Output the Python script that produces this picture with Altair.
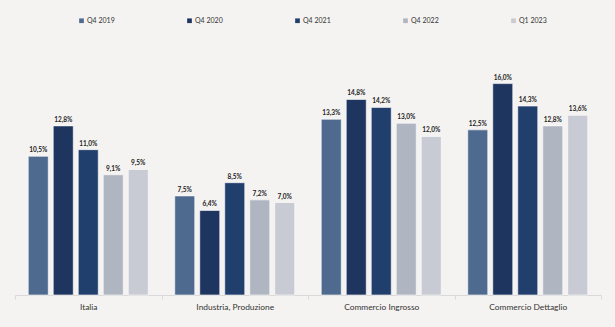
import altair as alt
import pandas as pd

categories = ["Italia", "Industria, Produzione", "Commercio Ingrosso", "Commercio Dettaglio"]
series = ["Q4 2019", "Q4 2020", "Q4 2021", "Q4 2022", "Q1 2023"]
values = {
    "Italia": [10.5, 12.8, 11.0, 9.1, 9.5],
    "Industria, Produzione": [7.5, 6.4, 8.5, 7.2, 7.0],
    "Commercio Ingrosso": [13.3, 14.8, 14.2, 13.0, 12.0],
    "Commercio Dettaglio": [12.5, 16.0, 14.3, 12.8, 13.6],
}
colors = ["#4e6a8f", "#1e3560", "#213f6d", "#b0b5c2", "#c8cbd3"]

rows = []
for c in categories:
    for s, v in zip(series, values[c]):
        rows.append({"cat": c, "ser": s, "val": v,
                     "lab": f"{v:.1f}".replace(".", ",") + "%"})
df = pd.DataFrame(rows)

x = alt.X("cat:N", sort=categories, title=None,
          scale=alt.Scale(paddingInner=0, paddingOuter=0),
          axis=alt.Axis(labelAngle=0, tickBand="extent", domainColor="#d9d9d9",
                        tickColor="#d9d9d9", tickSize=4, labelFontSize=8.4,
                        labelColor="#333333", labelPadding=3, labelFont="Lato"))
xo = alt.XOffset("ser:N", sort=series,
                 scale=alt.Scale(paddingInner=0.2, paddingOuter=0.53))
y = alt.Y("val:Q", scale=alt.Scale(domain=[0, 19.3], nice=False), axis=None)

bars = alt.Chart(df).mark_bar(stroke="white", strokeWidth=0.6).encode(
    x=x, xOffset=xo, y=y,
    color=alt.Color("ser:N", sort=series,
                    scale=alt.Scale(domain=series, range=colors),
                    legend=alt.Legend(title=None, orient="none", direction="horizontal",
                                      legendX=63, legendY=-23, symbolType="square",
                                      symbolSize=22, symbolStrokeWidth=0,
                                      labelFontSize=7, labelColor="#333333",
                                      labelFont="Lato", columnPadding=71,
                                      symbolOffset=0, labelOffset=2)),
)

text = alt.Chart(df).mark_text(baseline="bottom", dy=-3, fontSize=6.5,
                               fontWeight="bold", color="#222222", font="Lato").encode(
    x=alt.X("cat:N", sort=categories), xOffset=xo, y=y, text="lab:N")

chart = alt.layer(bars, text).properties(
    width=586, height=255,
    padding={"left": 15, "top": 40, "right": 14, "bottom": 32},
    autosize=alt.AutoSizeParams(type="none"),
    background="#f4f3f1",
).configure_view(stroke=None)

chart.save("out.html", embed_options={"renderer": "svg", "actions": False})
